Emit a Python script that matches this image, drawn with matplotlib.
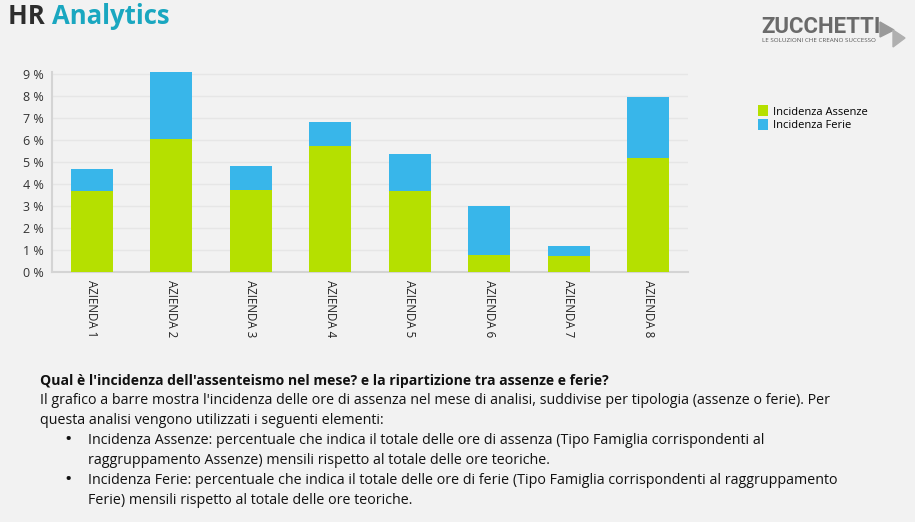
import matplotlib
matplotlib.use('Agg')
import matplotlib.pyplot as plt
import numpy as np

aziende = ['AZIENDA 1', 'AZIENDA 2', 'AZIENDA 3', 'AZIENDA 4',
           'AZIENDA 5', 'AZIENDA 6', 'AZIENDA 7', 'AZIENDA 8']
assenze = [3.68, 6.05, 3.73, 5.73, 3.68, 0.77, 0.73, 5.18]
ferie = [1.00, 3.04, 1.09, 1.09, 1.68, 2.23, 0.45, 2.79]
y_ticks = [0, 1, 2, 3, 4, 5, 6, 7, 8, 9]

green = '#b5e000'
blue = '#38b6ea'
bg = '#f2f2f2'
plt.rcParams['font.family'] = ['Open Sans', 'DejaVu Sans']

W, H = 915, 522
fig = plt.figure(figsize=(W / 100, H / 100), dpi=100, facecolor=bg)

# chart area
x0, y0, y9 = 52, 272, 74
ymax = 9.1
ppu = (y0 - y9) / 9
ytop = y0 - ymax * ppu
ax = fig.add_axes([x0 / W, (H - y0) / H, 636 / W, (y0 - ytop) / H])
ax.set_facecolor(bg)
x = np.arange(len(aziende))
ax.bar(x, assenze, width=0.53, color=green, label='Incidenza Assenze', zorder=3)
ax.bar(x, ferie, width=0.53, bottom=assenze, color=blue, label='Incidenza Ferie', zorder=3)
ax.set_xlim(-0.5, len(aziende) - 0.5)
ax.set_ylim(0, ymax)
ax.set_yticks(y_ticks)
ax.set_yticklabels(['{} %'.format(v) for v in y_ticks], fontsize=9, color='#333333')
ax.set_xticks(x)
ax.set_xticklabels(aziende, rotation=270, fontsize=8.3, color='#222222', va='top', ha='center')
ax.tick_params(length=0, pad=6)
ax.tick_params(axis='x', pad=6)
ax.grid(axis='y', color='#e6e6e6', linewidth=1, zorder=0)
for s in ['top', 'right']:
    ax.spines[s].set_visible(False)
for s in ['left', 'bottom']:
    ax.spines[s].set_color('#d4d4d4')
    ax.spines[s].set_linewidth(1.5)

ax.legend(loc='upper left', bbox_to_anchor=(754 / W, (H - 101) / H),
          bbox_transform=fig.transFigure, frameon=False, fontsize=8,
          handlelength=0.9, handleheight=1.1, handletextpad=0.4,
          labelspacing=0.15, borderaxespad=0)

# header
t = fig.text(8 / W, 1 - 17 / H, 'HR ', fontsize=18.5, fontweight='bold',
             color='#2d2d2d', va='center')
fig.canvas.draw()
bb = t.get_window_extent()
fig.text(bb.x1 / W, 1 - 17 / H, 'Analytics', fontsize=18.5, fontweight='bold',
         color='#1aa7c0', va='center')

# logo
fig.text(761 / W, 1 - 27 / H, 'ZUCCHETTI', fontsize=16, fontweight='bold',
         color='#6a6a6a', va='center', family=['Roboto', 'DejaVu Sans'],
         fontstretch='condensed')
fig.text(762 / W, 1 - 41 / H, 'LE SOLUZIONI CHE CREANO SUCCESSO', fontsize=4.5,
         color='#555555', va='center')
fig.add_artist(plt.Polygon([[880 / W, 1 - 22 / H], [894 / W, 1 - 30 / H], [880 / W, 1 - 37 / H]],
                           closed=True, color='#9a9a9a', transform=fig.transFigure))
fig.add_artist(plt.Polygon([[893 / W, 1 - 30 / H], [905 / W, 1 - 38 / H], [893 / W, 1 - 47 / H]],
                           closed=True, color='#b0b0b0', transform=fig.transFigure))

# description
fs = 10.3
fig.text(40 / W, 1 - 381 / H,
         "Qual è l'incidenza dell'assenteismo nel mese? e la ripartizione tra assenze e ferie?",
         fontsize=10.1, fontweight='bold', color='#111111', va='center')
lines = [
    (40, 401, "Il grafico a barre mostra l'incidenza delle ore di assenza nel mese di analisi, suddivise per tipologia (assenze o ferie). Per"),
    (40, 421, "questa analisi vengono utilizzati i seguenti elementi:"),
    (88, 440, "Incidenza Assenze: percentuale che indica il totale delle ore di assenza (Tipo Famiglia corrispondenti al"),
    (88, 460, "raggruppamento Assenze) mensili rispetto al totale delle ore teoriche."),
    (88, 480, "Incidenza Ferie: percentuale che indica il totale delle ore di ferie (Tipo Famiglia corrispondenti al raggruppamento"),
    (88, 500, "Ferie) mensili rispetto al totale delle ore teoriche."),
]
for lx, ly, s in lines:
    fig.text(lx / W, 1 - ly / H, s, fontsize=fs, color='#111111', va='center')
for by in [440, 480]:
    fig.text(64 / W, 1 - by / H, '•', fontsize=14, color='#111111', va='center')

fig.savefig('out.png', dpi=100, facecolor=bg)
